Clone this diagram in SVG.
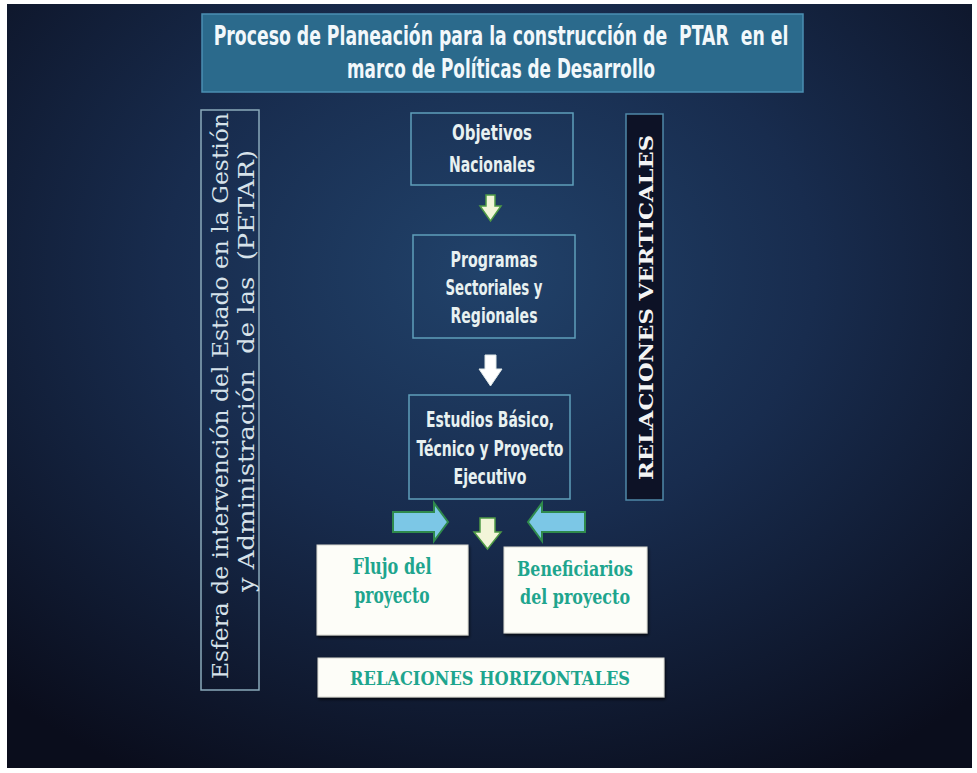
<svg xmlns="http://www.w3.org/2000/svg" width="977" height="773" viewBox="0 0 977 773">
<defs>
<radialGradient id="bg" cx="50%" cy="35%" r="75%">
<stop offset="0" stop-color="#21426a"/>
<stop offset="0.45" stop-color="#182c4e"/>
<stop offset="1" stop-color="#0a0d1c"/>
</radialGradient>
<filter id="sh" x="-10%" y="-10%" width="130%" height="140%">
<feDropShadow dx="1" dy="2" stdDeviation="1.5" flood-color="#000" flood-opacity="0.7"/>
</filter>
</defs>
<style>
.cond{font-family:"Liberation Sans Narrow","DejaVu Sans Condensed","Liberation Sans",sans-serif;}
.ttl{font-size:26px;font-weight:bold;fill:#f2f8fb;text-anchor:middle;}
.box{fill:none;stroke:#5f9fba;stroke-width:1.5;}
.btxt{font-size:22px;font-weight:bold;fill:#e8f1f1;text-anchor:middle;}
.serif{font-family:"DejaVu Serif","Liberation Serif",serif;}
.side{font-size:23px;fill:#d6e2ea;}
.slab{font-family:"DejaVu Serif","Liberation Serif",serif;font-weight:bold;}
.wbox{fill:#fdfdf8;stroke:#d8d8d0;stroke-width:1;filter:url(#sh);}
.teal{fill:#1ea58e;text-anchor:middle;}
.pale{fill:#f2f5d8;stroke:#4f9a45;stroke-width:1.5;}
.blue{fill:#7cc7e6;stroke:#2f8a4c;stroke-width:2;}
</style>
<rect width="977" height="773" fill="#ffffff"/>
<rect x="7" y="4" width="965" height="764" fill="url(#bg)"/>

<g id="title">
<rect x="202" y="14" width="601" height="78" fill="#2b6a8c" stroke="#4b8fb2" stroke-width="1.5"/>
<text class="cond ttl" transform="translate(501,45) scale(0.7,1)" x="0" y="0" textLength="821" lengthAdjust="spacingAndGlyphs" xml:space="preserve">Proceso de Planeación para la construcción de  PTAR  en el</text>
<text class="cond ttl" transform="translate(501,78) scale(0.7,1)" x="0" y="0" textLength="440" lengthAdjust="spacingAndGlyphs">marco de Políticas de Desarrollo</text>
</g>

<g id="esfera">
<rect x="201" y="110" width="58" height="580" fill="none" stroke="#8aaabb" stroke-width="1.5"/>
<text class="serif side" transform="translate(228,679) rotate(-90)" textLength="566" lengthAdjust="spacingAndGlyphs">Esfera de intervención del Estado en la Gestión</text>
<text class="serif side" transform="translate(254,592) rotate(-90)" textLength="442" lengthAdjust="spacingAndGlyphs" xml:space="preserve">y Administración  de las  (PETAR)</text>
</g>

<g id="objetivos">
<rect class="box" x="411" y="113" width="162" height="72"/>
<text class="cond btxt" x="492" y="140" textLength="80" lengthAdjust="spacingAndGlyphs">Objetivos</text>
<text class="cond btxt" x="492" y="172" textLength="86" lengthAdjust="spacingAndGlyphs">Nacionales</text>
</g>

<g id="programas">
<rect class="box" x="413" y="235" width="162" height="103"/>
<text class="cond btxt" x="494" y="267" textLength="87" lengthAdjust="spacingAndGlyphs">Programas</text>
<text class="cond btxt" x="494" y="295" textLength="97" lengthAdjust="spacingAndGlyphs">Sectoriales y</text>
<text class="cond btxt" x="494" y="323" textLength="87" lengthAdjust="spacingAndGlyphs">Regionales</text>
</g>

<g id="estudios">
<rect class="box" x="409" y="395" width="161" height="104"/>
<text class="cond btxt" x="490" y="427" textLength="128" lengthAdjust="spacingAndGlyphs">Estudios Básico,</text>
<text class="cond btxt" x="490" y="456" textLength="147" lengthAdjust="spacingAndGlyphs">Técnico y Proyecto</text>
<text class="cond btxt" x="490" y="484" textLength="73" lengthAdjust="spacingAndGlyphs">Ejecutivo</text>
</g>

<g id="verticales">
<rect x="626" y="114" width="37" height="386" fill="#0d1226" stroke="#4f88a8" stroke-width="1.5"/>
<text class="slab" font-size="19" fill="#f4f4f4" transform="translate(653,480) rotate(-90)" textLength="345" lengthAdjust="spacingAndGlyphs">RELACIONES VERTICALES</text>
</g>

<g id="flujo">
<rect class="wbox" x="317" y="545" width="151" height="90"/>
<text class="slab teal" font-size="22" x="392" y="574" textLength="79" lengthAdjust="spacingAndGlyphs">Flujo del</text>
<text class="slab teal" font-size="22" x="392" y="603" textLength="75" lengthAdjust="spacingAndGlyphs">proyecto</text>
</g>

<g id="beneficiarios">
<rect class="wbox" x="504" y="547" width="143" height="86"/>
<text class="slab teal" font-size="21" x="575" y="576" textLength="116" lengthAdjust="spacingAndGlyphs">Beneficiarios</text>
<text class="slab teal" font-size="21" x="575" y="604" textLength="110" lengthAdjust="spacingAndGlyphs">del proyecto</text>
</g>

<g id="horizontales">
<rect class="wbox" x="318" y="658" width="346" height="39"/>
<text class="slab teal" font-size="19" x="490" y="685" textLength="280" lengthAdjust="spacingAndGlyphs">RELACIONES HORIZONTALES</text>
</g>

<g id="connectors">
<path class="pale" d="M486,195 H495 V206 H501 L490.5,221 L480,206 H486 Z"/>
<path d="M485,355 H496 V369 H502 L490.5,386 L479,369 H485 Z" fill="#ffffff" stroke="#dfe8e8" stroke-width="1"/>
<path class="pale" d="M480,518 H495 V532 H501 L487.5,549 L474,532 H480 Z"/>
<path class="blue" d="M393,512 H434 V503 L448,522 L434,541 V532 H393 Z"/>
<path class="blue" d="M585,512 H542 V503 L528,522 L542,541 V532 H585 Z"/>
</g>
</svg>
